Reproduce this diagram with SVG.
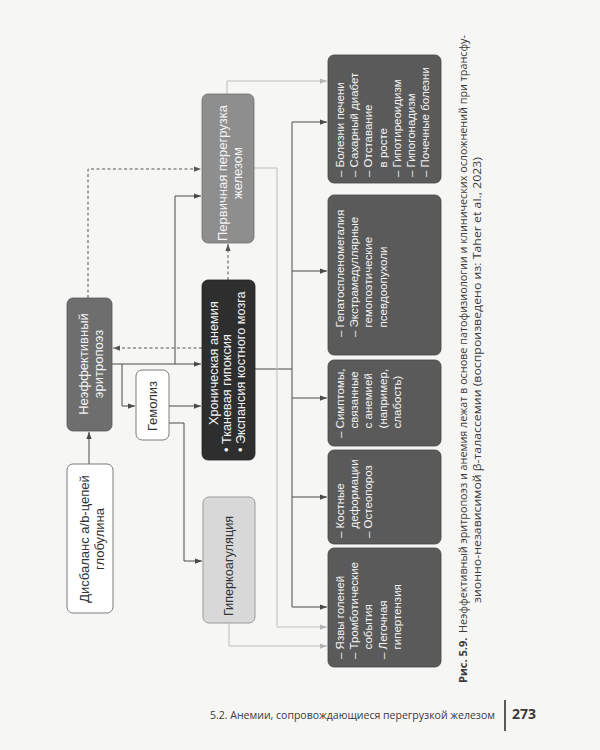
<svg xmlns="http://www.w3.org/2000/svg" width="600" height="750" viewBox="0 0 600 750">
<defs>
<style>
.bg{fill:#f6f6f4}
.bw{fill:#ffffff;stroke:#7c7c7c;stroke-width:1}
.bm{fill:#6e6e6e;stroke:#555;stroke-width:0.8}
.bk{fill:#2e2e2e;stroke:#222;stroke-width:0.8}
.bp{fill:#8e8e8e;stroke:#6e6e6e;stroke-width:0.8}
.bl{fill:#d8d8d8;stroke:#9a9a9a;stroke-width:1}
.bc{fill:#5a5a5a;stroke:#444;stroke-width:0.8}
.t{font-family:"Liberation Sans",Arial,sans-serif}
.tw{fill:#f4f4f4}
.td{fill:#333333}
.f13{font-size:13px}
.f125{font-size:12.7px}
.f115{font-size:11.5px}
.cap{font-family:"Open Sans","Noto Sans",sans-serif;font-size:11px;fill:#3a3a3a}
.sd{fill:none;stroke:#4a4a4a;stroke-width:1}
.sl{fill:none;stroke:#bdbdbd;stroke-width:1}
.ss{fill:none;stroke:#555;stroke-width:1;stroke-dasharray:3,2.5}
</style>
<marker id="ad" viewBox="0 0 8 8" refX="8" refY="4" markerWidth="7" markerHeight="7" orient="auto" markerUnits="userSpaceOnUse"><path d="M0,1 L8,4 L0,7 Z" fill="#4a4a4a"/></marker>
<marker id="al" viewBox="0 0 8 8" refX="8" refY="4" markerWidth="7" markerHeight="7" orient="auto" markerUnits="userSpaceOnUse"><path d="M0,1 L8,4 L0,7 Z" fill="#b5b5b5"/></marker>
<marker id="as" viewBox="0 0 8 8" refX="8" refY="4" markerWidth="7" markerHeight="7" orient="auto" markerUnits="userSpaceOnUse"><path d="M0,1 L8,4 L0,7 Z" fill="#555"/></marker>
</defs>
<rect class="bg" x="0" y="0" width="600" height="750"/>

<g id="connectors">
<path class="sd" d="M89,464 V432" marker-end="url(#ad)"/>
<path class="sd" d="M112,364 H201" marker-end="url(#ad)"/>
<path class="sd" d="M122,364 V406 H135" marker-end="url(#ad)"/>
<path class="sd" d="M175,364 V196 H201" marker-end="url(#ad)"/>
<path class="sd" d="M169,406 H201" marker-end="url(#ad)"/>
<path class="sd" d="M169,423 H184 V561 H202" marker-end="url(#ad)"/>
<path class="ss" d="M202,348 H113" marker-end="url(#as)"/>
<path class="ss" d="M88,298 V169 H201" marker-end="url(#as)"/>
<path class="ss" d="M228,280 V244" marker-end="url(#as)"/>
<path class="sd" d="M255,369 H292"/>
<path class="sd" d="M292,122 V607"/>
<path class="sd" d="M292,122 H327" marker-end="url(#ad)"/>
<path class="sd" d="M292,271 H327" marker-end="url(#ad)"/>
<path class="sd" d="M292,398 H327" marker-end="url(#ad)"/>
<path class="sd" d="M292,497 H327" marker-end="url(#ad)"/>
<path class="sd" d="M292,607 H327" marker-end="url(#ad)"/>
<path class="sl" d="M227,94 V81 H327" marker-end="url(#al)"/>
<path class="sl" d="M254,168 H277 V627 H327" marker-end="url(#al)"/>
<path class="sl" d="M229,623 V646 H327" marker-end="url(#al)"/>
</g>

<g id="n-disbalance">
<rect class="bw" x="67" y="464" width="46" height="149" rx="6"/>
<text class="t td f13" text-anchor="middle" transform="translate(89,539) rotate(-90)"><tspan x="0" y="0">Дисбаланс a/b-цепей</tspan><tspan x="0" dy="15">глобулина</tspan></text>
</g>

<g id="n-ineff">
<rect class="bm" x="67" y="298" width="45" height="133" rx="6"/>
<text class="t tw f13" text-anchor="middle" transform="translate(88,364) rotate(-90)"><tspan x="0" y="0">Неэффективный</tspan><tspan x="0" dy="15">эритропоэз</tspan></text>
</g>

<g id="n-hemolysis">
<rect class="bw" x="136" y="370" width="33" height="70" rx="6"/>
<text class="t td f13" text-anchor="middle" transform="translate(157,406) rotate(-90)">Гемолиз</text>
</g>

<g id="n-anemia">
<rect class="bk" x="202" y="280" width="53" height="180" rx="6"/>
<text class="t tw f125" transform="translate(217.5,0) rotate(-90)"><tspan x="-425" y="0">Хроническая анемия</tspan><tspan x="-452" dy="13.5">• Тканевая гипоксия</tspan><tspan x="-452" dy="13.5">• Экспансия костного мозга</tspan></text>
</g>

<g id="n-hypercoag">
<rect class="bl" x="203" y="497" width="52" height="126" rx="6"/>
<text class="t td f125" text-anchor="middle" transform="translate(233,566) rotate(-90)">Гиперкоагуляция</text>
</g>

<g id="n-primary">
<rect class="bp" x="202" y="94" width="52" height="149" rx="6"/>
<text class="t tw f13" text-anchor="middle" transform="translate(227,173) rotate(-90)"><tspan x="0" y="0">Первичная перегрузка</tspan><tspan x="0" dy="15">железом</tspan></text>
</g>

<g id="n-c1">
<rect class="bc" x="328" y="55" width="113" height="128" rx="6"/>
<text class="t tw f115" transform="translate(344,177) rotate(-90)"><tspan x="0" y="0">– Болезни печени</tspan><tspan x="0" dy="14.2">– Сахарный диабет</tspan><tspan x="0" dy="14.2">– Отставание</tspan><tspan x="9.6" dy="14.2">в росте</tspan><tspan x="0" dy="14.2">– Гипотиреоидизм</tspan><tspan x="0" dy="14.2">– Гипогонадизм</tspan><tspan x="0" dy="14.2">– Почечные болезни</tspan></text>
</g>

<g id="n-c2">
<rect class="bc" x="328" y="195" width="113" height="160" rx="6"/>
<text class="t tw f115" transform="translate(344,337) rotate(-90)"><tspan x="0" y="0">– Гепатоспленомегалия</tspan><tspan x="0" dy="14.2">– Экстрамедуллярные</tspan><tspan x="9.6" dy="14.2">гемопоэтические</tspan><tspan x="9.6" dy="14.2">псевдоопухоли</tspan></text>
</g>

<g id="n-c3">
<rect class="bc" x="328" y="360" width="113" height="86" rx="6"/>
<text class="t tw f115" transform="translate(344,438) rotate(-90)"><tspan x="0" y="0">– Симптомы,</tspan><tspan x="9.6" dy="14.2">связанные</tspan><tspan x="9.6" dy="14.2">с анемией</tspan><tspan x="9.6" dy="14.2">(например,</tspan><tspan x="9.6" dy="14.2">слабость)</tspan></text>
</g>

<g id="n-c4">
<rect class="bc" x="328" y="450" width="113" height="94" rx="6"/>
<text class="t tw f115" transform="translate(344,538) rotate(-90)"><tspan x="0" y="0">– Костные</tspan><tspan x="9.6" dy="14.2">деформации</tspan><tspan x="0" dy="14.2">– Остеопороз</tspan></text>
</g>

<g id="n-c5">
<rect class="bc" x="328" y="548" width="113" height="119" rx="6"/>
<text class="t tw f115" transform="translate(344,659) rotate(-90)"><tspan x="0" y="0">– Язвы голеней</tspan><tspan x="0" dy="14.2">– Тромботические</tspan><tspan x="9.6" dy="14.2">события</tspan><tspan x="0" dy="14.2">– Легочная</tspan><tspan x="9.6" dy="14.2">гипертензия</tspan></text>
</g>

<g id="caption">
<text class="cap" font-weight="bold" transform="translate(467,683) rotate(-90)">Рис. 5.9.</text>
<text class="cap" transform="translate(467,633) rotate(-90)" textLength="598" lengthAdjust="spacingAndGlyphs">Неэффективный эритропоэз и анемия лежат в основе патофизиологии и клинических осложнений при трансфу-</text>
<text class="cap" transform="translate(481,603) rotate(-90)" textLength="446" lengthAdjust="spacingAndGlyphs">зионно-независимой β-талассемии (воспроизведено из: Taher et al., 2023)</text>
</g>

<g id="footer">
<text class="cap" x="210" y="719" textLength="285" lengthAdjust="spacingAndGlyphs">5.2. Анемии, сопровождающиеся перегрузкой железом</text>
<line x1="505" y1="700" x2="505" y2="731" stroke="#333" stroke-width="1.6"/>
<text class="cap" style="font-size:14px;font-weight:bold" x="512" y="719">273</text>
</g>
</svg>
